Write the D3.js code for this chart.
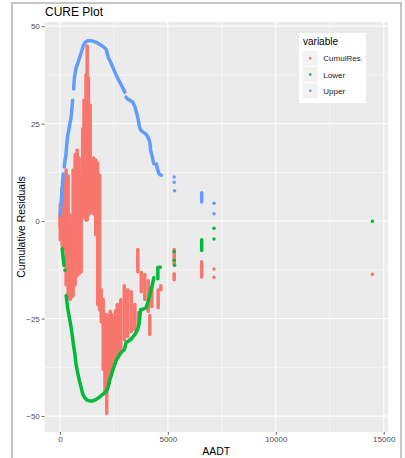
<!DOCTYPE html>
<html>
<head>
<meta charset="utf-8">
<script src="https://cdn.jsdelivr.net/npm/d3@7"></script>
<style>
  body { margin: 0; background: #fff; }
  svg text { font-family: "Liberation Sans", Arial, sans-serif; }
</style>
</head>
<body>
<svg id="chart" width="405" height="458"></svg>
<script>
// ---- data -------------------------------------------------------------
const seriesNames  = ["CumulRes", "Lower", "Upper"];
const seriesColors = ["#F8766D", "#00BA38", "#619CFF"];
const xTicks = [0, 5000, 10000, 15000];
const yTicks = [-50, -25, 0, 25, 50];
const xMinor = [2500, 7500, 12500];
const yMinor = [-37.5, -12.5, 12.5, 37.5];

// Upper bound: dense stretches [AADT, value] and lone points
const upperRuns = [
  [[19,1.6],[46,4.2],[93,7.8],[125,10.3],[153,12.1]],
  [[200,13.9],[232,15.4],[279,17.0],[311,19.3],[358,21.8],[427,23.9],[511,26.4],[557,29.0],[590,31.0]],
  [[636,33.9],[669,36.7],[743,39.2],[845,40.8],[915,42.0],[1008,43.6],[1087,45.1],[1194,46.0],[1286,46.3],
   [1426,46.3],[1565,46.1],[1704,45.8],[1890,45.2],[2029,44.7],[2136,44.1],[2192,43.1],[2238,42.0],
   [2341,40.9],[2447,39.5],[2587,37.7],[2749,35.9],[2889,34.4],[3005,33.1]],
  [[3065,31.8],[3144,31.3],[3237,31.0],[3376,30.5],[3483,29.2],[3576,27.3],[3641,25.6],[3687,24.1],
   [3762,23.2],[3887,22.7],[3994,22.3],[4096,21.3],[4152,20.5],[4189,19.3],[4198,18.2],[4259,17.0],
   [4305,15.7],[4351,14.7]],
  [[4468,14.7],[4514,13.5],[4560,12.6],[4607,12.0],[4700,11.8]],
  [[6567,7.3],[6567,4.9]]
];
const upperPoints = [[5294,11.3],[5294,10.0],[5313,7.8],[7138,4.6],[7138,1.9]];

// Lower bound
const lowerRuns = [
  [[102,-7.1],[139,-8.9],[172,-10.4],[195,-11.4]],
  [[288,-19.1],[325,-20.7],[358,-22.2],[437,-24.7],[511,-27.0],[567,-29.1],[613,-31.1],[669,-33.2],
   [706,-34.7],[743,-36.5],[799,-38.3],[901,-40.9],[985,-42.7],[1054,-44.3],[1147,-45.3],[1263,-45.9],
   [1379,-46.1],[1519,-46.1],[1681,-45.7],[1797,-45.3],[1983,-44.4],[2122,-43.8],[2215,-42.9],
   [2294,-41.0],[2378,-39.6],[2447,-38.3],[2601,-35.8],[2726,-34.6],[2833,-33.7],[2991,-32.9],
   [3065,-31.1],[3167,-30.8],[3297,-30.3],[3483,-29.0],[3608,-27.7],[3678,-26.0],[3734,-22.7],
   [3841,-22.6],[3994,-22.2],[4073,-20.9],[4152,-19.2],[4226,-17.6],[4305,-15.8],[4351,-14.5]],
  [[4537,-14.8],[4537,-13.2],[4537,-11.9],[4653,-11.8]],
  [[6567,-4.8],[6567,-7.5]]
];
const lowerPoints = [[232,-12.6],[5294,-7.8],[5294,-10.0],[5313,-11.3],[7138,-1.8],[7138,-4.6],[14475,0]];

// Cumulative residuals: runs of points stacked at one AADT [AADT, high, low]
const resStreaks = [
  // start near zero and the left-hand streaks
  [9,1.4,-1.5],[19,4.2,-4.8],[102,8.5,-6.3],[195,11.8,-7.3],[288,13.1,-16.3],[381,11.6,-19.6],
  [474,1.6,-20.1],[567,-0.9,-19.4],[613,13.1,-19.1],[706,17.0,-16.3],[799,18.2,-14.0],[892,16.2,-13.5],
  [985,11.8,-13.0],
  // central spike
  [1054,23.7,0.8],[1115,31.0,1.6],[1208,37.5,0.3],[1263,44.9,0.3],[1319,36.7,1.6],[1402,29.7,2.1],
  // right-hand streak and its tail
  [1472,15.7,2.4],[1565,16.2,1.9],[1658,15.7,-3.5],[1751,14.9,-21.4],[1834,11.8,-22.7],
  [1913,-17.6,-25.8],
  // low cluster
  [2006,-20.1,-38.0],[2088,-24.0,-44.0],[2169,-24.0,-49.3],[2250,-24.5,-42.0],[2332,-23.2,-38.8],
  [2413,-24.0,-37.0],[2494,-24.7,-35.5],[2575,-23.0,-35.3],[2656,-21.4,-34.7],[2738,-21.5,-34.0],
  [2819,-20.1,-32.7],[2982,-16.6,-30.4],[3144,-17.6,-29.6],[3306,-18.1,-28.3],[3469,-21.4,-27.8],
  [3608,-7.3,-13.0],[3632,-23.5,-26.8],
  [3771,-13.2,-18.1],[3934,-13.7,-20.1],[4096,-15.3,-23.2],[4166,-24.2,-29.1],[4259,-17.1,-21.9],
  [4551,-17.6,-22.2],[4676,-16.6,-17.6],
  // sparse points to the right
  [5294,-7.3,-11.2],[5294,-13.5,-15.0],[6567,-10.4,-14.3],[7138,-12.3,-12.3],[7138,-14.4,-14.4],
  [14475,-13.6,-13.6]
];

// ---- layout -----------------------------------------------------------
const svg = d3.select("#chart");
const panel = { left: 44.5, right: 388, top: 22, bottom: 432 };
const r = 1.75;

// frame around the figure
svg.append("rect").attr("x", 12).attr("y", 3).attr("width", 389).attr("height", 460)
  .attr("fill", "none").attr("stroke", "#c6c6c6").attr("stroke-width", 2);

// scales with 5% padding around the data range
const allX = [], allY = [];
upperRuns.flat().concat(upperPoints, lowerRuns.flat(), lowerPoints).forEach(d => { allX.push(d[0]); allY.push(d[1]); });
resStreaks.forEach(d => { allX.push(d[0]); allY.push(d[1], d[2]); });
const [x0, x1] = d3.extent(allX), [y0, y1] = d3.extent(allY);
const px = (x1 - x0) * 0.05, py = (y1 - y0) * 0.05;
const x = d3.scaleLinear().domain([x0 - px, x1 + px]).range([panel.left, panel.right]);
const y = d3.scaleLinear().domain([y0 - py, y1 + py]).range([panel.bottom, panel.top]);

// panel background and grid
svg.append("rect").attr("x", panel.left).attr("y", panel.top)
  .attr("width", panel.right - panel.left).attr("height", panel.bottom - panel.top).attr("fill", "#ebebeb");
const grid = svg.append("g").attr("stroke", "#fff");
grid.selectAll(".xm").data(xMinor).join("line")
  .attr("x1", d => x(d)).attr("x2", d => x(d)).attr("y1", panel.top).attr("y2", panel.bottom).attr("stroke-width", 0.5);
grid.selectAll(".ym").data(yMinor).join("line")
  .attr("y1", d => y(d)).attr("y2", d => y(d)).attr("x1", panel.left).attr("x2", panel.right).attr("stroke-width", 0.5);
grid.selectAll(".xM").data(xTicks).join("line")
  .attr("x1", d => x(d)).attr("x2", d => x(d)).attr("y1", panel.top).attr("y2", panel.bottom).attr("stroke-width", 1);
grid.selectAll(".yM").data(yTicks).join("line")
  .attr("y1", d => y(d)).attr("y2", d => y(d)).attr("x1", panel.left).attr("x2", panel.right).attr("stroke-width", 1);

// axes
const xAxis = svg.append("g").attr("transform", `translate(0,${panel.bottom})`)
  .call(d3.axisBottom(x).tickValues(xTicks).tickFormat(d3.format("d")).tickSize(2.7).tickPadding(2));
const yAxis = svg.append("g").attr("transform", `translate(${panel.left},0)`)
  .call(d3.axisLeft(y).tickValues(yTicks).tickFormat(d3.format("d")).tickSize(2.7).tickPadding(2));
[xAxis, yAxis].forEach(a => {
  a.select(".domain").remove();
  a.selectAll(".tick line").attr("stroke", "#333").attr("stroke-width", 0.8);
  a.selectAll(".tick text").attr("fill", "#4d4d4d").style("font-size", "8px")
    .style("font-family", '"Liberation Sans", Arial, sans-serif');
});

// marks
const plot = svg.append("g");
function drawStreaks(data, color) {
  plot.append("g").selectAll("rect").data(data).join("rect")
    .attr("x", d => x(d[0]) - r).attr("y", d => y(d[1]) - r)
    .attr("width", 2 * r).attr("height", d => y(d[2]) - y(d[1]) + 2 * r)
    .attr("rx", r).attr("fill", color);
}
function drawRuns(runs, color) {
  const line = d3.line().x(d => x(d[0])).y(d => y(d[1]));
  plot.append("g").selectAll("path").data(runs).join("path")
    .attr("d", line).attr("fill", "none").attr("stroke", color).attr("stroke-width", 2 * r)
    .attr("stroke-linecap", "round").attr("stroke-linejoin", "round");
}
function drawPoints(pts, color) {
  plot.append("g").selectAll("circle").data(pts).join("circle")
    .attr("cx", d => x(d[0])).attr("cy", d => y(d[1])).attr("r", r).attr("fill", color);
}
drawStreaks(resStreaks, seriesColors[0]);
drawRuns(lowerRuns, seriesColors[1]);
drawPoints(lowerPoints, seriesColors[1]);
drawRuns(upperRuns, seriesColors[2]);
drawPoints(upperPoints, seriesColors[2]);

// titles
svg.append("text").attr("x", 45).attr("y", 16).attr("font-size", 12).attr("fill", "#000").text("CURE Plot");
svg.append("text").attr("x", (panel.left + panel.right) / 2).attr("y", 455).attr("text-anchor", "middle")
  .attr("font-size", 10.5).attr("fill", "#000").text("AADT");
svg.append("text").attr("transform", `translate(24.5,${(panel.top + panel.bottom) / 2}) rotate(-90)`)
  .attr("text-anchor", "middle").attr("font-size", 10.5).attr("fill", "#000").text("Cumulative Residuals");

// legend
const lg = svg.append("g").attr("transform", "translate(299,33)");
lg.append("rect").attr("width", 67).attr("height", 70).attr("fill", "#fff");
lg.append("text").attr("x", 4).attr("y", 12).attr("font-size", 10).attr("fill", "#000").text("variable");
const items = lg.selectAll(".item").data(seriesNames).join("g")
  .attr("transform", (d, i) => `translate(3.7,${17.7 + i * 16.3})`);
items.append("rect").attr("width", 15).attr("height", 15).attr("fill", "#f2f2f2");
items.append("circle").attr("cx", 7.5).attr("cy", 7.5).attr("r", 1.3).attr("fill", (d, i) => seriesColors[i]);
items.append("text").attr("x", 20.6).attr("y", 10.5).attr("font-size", 8).attr("fill", "#1a1a1a").text(d => d);
</script>
</body>
</html>
